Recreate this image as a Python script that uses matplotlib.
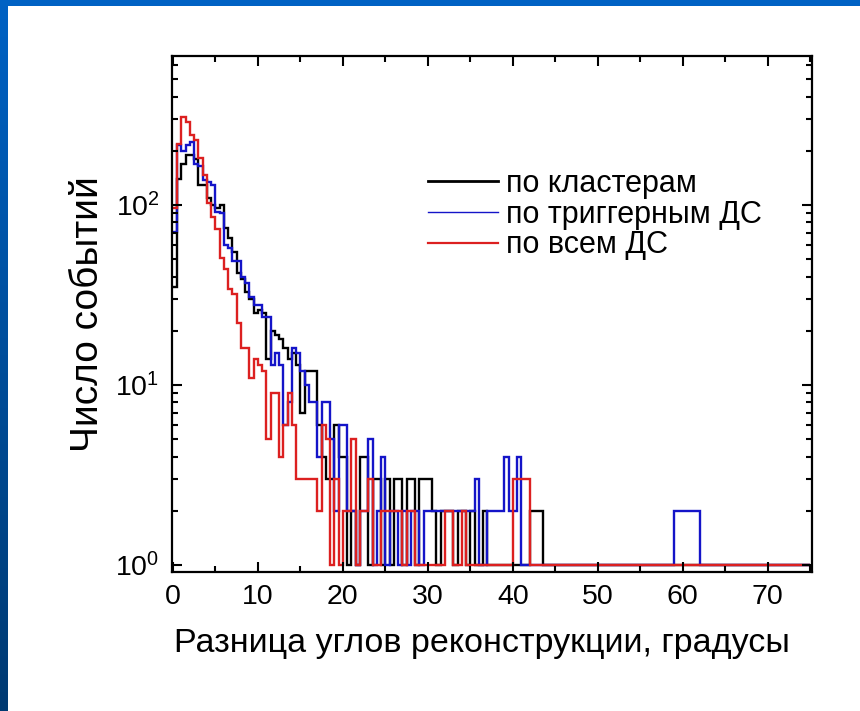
import numpy as np
import matplotlib.pyplot as plt
from matplotlib.colors import LinearSegmentedColormap
from matplotlib.ticker import MultipleLocator, LogLocator

plt.rcParams['font.family'] = ['Liberation Sans', 'DejaVu Sans']
plt.rcParams['mathtext.fontset'] = 'custom'
plt.rcParams['mathtext.rm'] = 'Liberation Sans'

# гистограммы разницы углов, шаг 0.5 градуса, от 0 до 75
bin_step = 0.5
x_max = 75.0

po_klasteram = [
    35, 140, 170, 190, 190, 180, 130, 130, 110, 100, 96, 100, 75, 66, 55, 42, 39, 33, 30, 25,
    26, 25, 14, 20, 19, 18, 16, 14, 15, 13, 7, 12, 12, 12, 6, 4, 3, 3, 6, 4,
    4, 1, 2, 1, 4, 4, 1, 3, 3, 1, 3, 1, 3, 3, 1, 3, 3, 1, 3, 3,
    3, 2, 1, 2, 2, 2, 1, 2, 2, 1, 2, 1, 1, 2, 1, 1, 1, 1, 1, 1,
    1, 1, 1, 1, 2, 2, 2, 1, 1, 1, 1, 1, 1, 1, 1, 1, 1, 1, 1, 1,
    1, 1, 1, 1, 1, 1, 1, 1, 1, 1, 1, 1, 1, 1, 1, 1, 1, 1, 1, 1,
    1, 1, 1, 1, 1, 1, 1, 1, 1, 1, 1, 1, 1, 1, 1, 1, 1, 1, 1, 1,
    1, 1, 1, 1, 1, 1, 1, 1, 1, 1,
]
po_triggernym = [
    71, 215, 200, 215, 225, 170, 165, 138, 135, 130, 92, 90, 60, 58, 49, 49, 40, 37, 31, 28,
    28, 24, 24, 13, 15, 13, 6, 8, 16, 15, 12, 10, 8, 8, 4, 8, 8, 5, 2, 6,
    6, 2, 2, 1, 2, 2, 5, 1, 2, 4, 1, 2, 2, 1, 2, 1, 2, 2, 1, 2,
    2, 2, 2, 2, 2, 2, 2, 2, 2, 2, 2, 3, 1, 1, 2, 2, 2, 2, 4, 2,
    2, 4, 1, 1, 1, 1, 1, 1, 1, 1, 1, 1, 1, 1, 1, 1, 1, 1, 1, 1,
    1, 1, 1, 1, 1, 1, 1, 1, 1, 1, 1, 1, 1, 1, 1, 1, 1, 1, 2, 2,
    2, 2, 2, 2, 1, 1, 1, 1, 1, 1, 1, 1, 1, 1, 1, 1, 1, 1, 1, 1,
    1, 1, 1, 1, 1, 1, 1, 1, 1, 1,
]
po_vsem = [
    96, 217, 310, 290, 245, 230, 182, 147, 102, 86, 74, 51, 44, 34, 32, 22, 16, 16, 11, 14,
    13, 12, 5, 9, 9, 4, 6, 9, 6, 3, 3, 3, 3, 3, 2, 6, 5, 1, 3, 1,
    2, 2, 5, 1, 2, 2, 3, 1, 1, 2, 2, 2, 2, 2, 1, 2, 2, 1, 1, 1,
    1, 1, 1, 1, 2, 2, 1, 1, 2, 1, 1, 1, 1, 1, 1, 1, 1, 1, 1, 1,
    3, 3, 3, 3, 1, 1, 1, 1, 1, 1, 1, 1, 1, 1, 1, 1, 1, 1, 1, 1,
    1, 1, 1, 1, 1, 1, 1, 1, 1, 1, 1, 1, 1, 1, 1, 1, 1, 1, 1, 1,
    1, 1, 1, 1, 1, 1, 1, 1, 1, 1, 1, 1, 1, 1, 1, 1, 1, 1, 1, 1,
    1, 1, 1, 1, 1, 1, 1, 1, 1, 1,
]
labels = ['по кластерам', 'по триггерным ДС', 'по всем ДС']
colors = ['black', '#1414c8', '#dc2020']

edges = np.arange(0, x_max + bin_step / 2, bin_step)

fig = plt.figure(figsize=(8.6, 7.11), dpi=100)
fig.patch.set_facecolor('white')

# синяя рамка слайда: полоса сверху и градиент слева
cmap = LinearSegmentedColormap.from_list('slide', ['#0062c4', '#003a72'])
ax_left = fig.add_axes([0, 0, 8 / 860, 1])
ax_left.imshow(np.linspace(0, 1, 256).reshape(-1, 1), aspect='auto', cmap=cmap)
ax_left.axis('off')
ax_top = fig.add_axes([0, 1 - 6 / 711, 1, 6 / 711])
ax_top.set_facecolor('#0062c4')
ax_top.set_xticks([])
ax_top.set_yticks([])
for s in ax_top.spines.values():
    s.set_visible(False)

ax = fig.add_axes([172 / 860, 1 - 572 / 711, 640 / 860, 516 / 711])
series = [po_klasteram, po_triggernym, po_vsem]
for vals, lab, col in zip(series, labels, colors):
    ax.stairs(vals, edges, baseline=None, color=col, lw=1.7, label=lab)

ax.set_yscale('log')
ax.set_xlim(-0.1, 75.2)
ax.set_ylim(0.915, 673)
ax.xaxis.set_major_locator(MultipleLocator(10))
ax.xaxis.set_minor_locator(MultipleLocator(5))
ax.yaxis.set_major_locator(LogLocator(base=10))
ax.yaxis.set_minor_locator(LogLocator(base=10, subs=np.arange(2, 10)))
ax.tick_params(which='both', direction='in', top=True, right=True, width=1.5, labelsize=20.5)
ax.tick_params(which='major', length=7, pad=9)
ax.tick_params(which='minor', length=4.5)
for s in ax.spines.values():
    s.set_linewidth(1.6)

ax.set_xlabel('Разница углов реконструкции, градусы', fontsize=24.5)
ax.xaxis.set_label_coords(0.485, -0.108)
ax.set_ylabel('Число событий', fontsize=28, labelpad=7)

leg = ax.legend(loc='upper left', bbox_to_anchor=(428 / 860, 1 - 169 / 711),
                bbox_transform=fig.transFigure, frameon=False, fontsize=22,
                handlelength=2.3, handletextpad=0.25, labelspacing=0.02, borderpad=0,
                borderaxespad=0)
for line, w in zip(leg.get_lines(), [2.0, 1.0, 1.6]):
    line.set_linewidth(w)

fig.savefig('out.png', dpi=100)
